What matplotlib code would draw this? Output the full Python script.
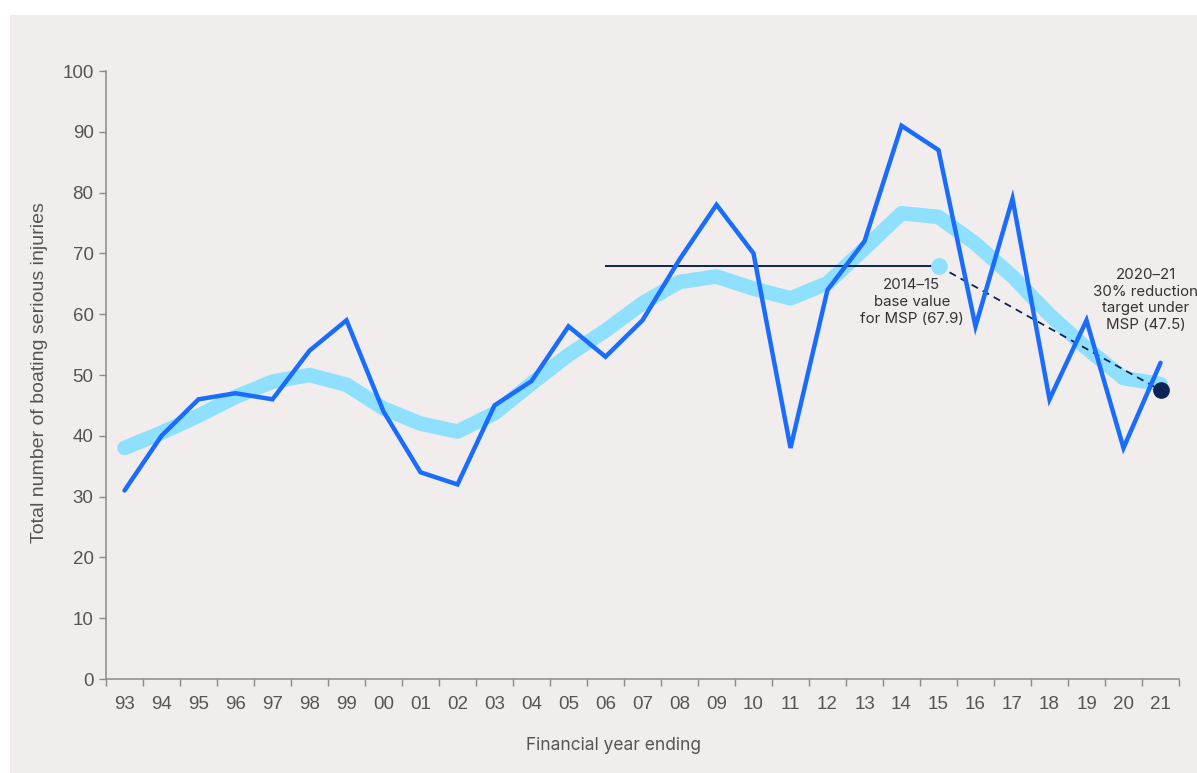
import numpy as np
import matplotlib
matplotlib.use("Agg")
import matplotlib.pyplot as plt
from matplotlib.patches import Rectangle


# ── Data ───────────────────────────────────────────────────
years = ["93", "94", "95", "96", "97", "98", "99", "00", "01", "02",
         "03", "04", "05", "06", "07", "08", "09", "10", "11", "12",
         "13", "14", "15", "16", "17", "18", "19", "20", "21"]
injuries = [31, 40, 46, 47, 46, 54, 59, 44, 34, 32,
            45, 49, 58, 53, 59, 69, 78, 70, 38, 64,
            72, 91, 87, 58, 79, 46, 59, 38, 52]
trend = [38.0, 40.5, 43.3, 46.4, 48.9, 50.0, 48.4, 44.5, 42.0, 40.7,
         43.7, 48.6, 53.3, 57.3, 61.8, 65.3, 66.2, 64.2, 62.6, 65.1,
         70.8, 76.6, 76.0, 71.6, 66.2, 59.9, 54.4, 49.5, 48.5]
base_start, base_year, target_year = "06", "15", "21"
base_value = 67.9
target_value = 47.5
y_ticks = [0, 10, 20, 30, 40, 50, 60, 70, 80, 90, 100]

# ── Style ──────────────────────────────────────────────────
BG       = "#f1edec"
BLUE     = "#1a6cff"
LIGHT    = "#8fe0ff"
NAVY     = "#0b2454"
AXIS     = "#8a8a8a"
TEXT     = "#555555"
SANS     = ["Liberation Sans", "DejaVu Sans"]
plt.rcParams["font.family"] = ["Inter", "DejaVu Sans"]

fig = plt.figure(figsize=(11.97, 7.73), dpi=100)
fig.patch.set_facecolor("white")
fig.patches.append(Rectangle((10 / 1197, 0), 1, 1 - 15 / 773,
                             transform=fig.transFigure, facecolor=BG,
                             edgecolor="none", zorder=-10))

ax = fig.add_axes([106 / 1197, 1 - 679 / 773,
                   (1179 - 106) / 1197, (679 - 71) / 773])
ax.set_facecolor("none")

x = np.arange(len(years))
ib = years.index(base_start)
i15 = years.index(base_year)
i21 = years.index(target_year)

# trend band, base line, target path
ax.plot(x, trend, color=LIGHT, lw=10.5, solid_capstyle="round",
        solid_joinstyle="round", zorder=1)
ax.plot([ib, i15], [base_value, base_value], color=NAVY, lw=1.4, zorder=2)
ax.plot([i15, i21], [base_value, target_value], color=NAVY, lw=1.3,
        ls=(0, (4, 3)), zorder=2)

# yearly injuries
ax.plot(x, injuries, color=BLUE, lw=3.2, solid_joinstyle="miter",
        solid_capstyle="round", zorder=3)

ax.plot(i15, base_value, "o", ms=11, color=LIGHT, zorder=4)
ax.plot(i21, target_value, "o", ms=11, color=NAVY, zorder=5)

ax.text(21.28, 65.9, "2014\u201315\nbase value\nfor MSP (67.9)",
        ha="center", va="top", fontsize=10.8, color="#333333",
        linespacing=1.25, zorder=6)
ax.text(27.6, 67.6, "2020\u201321\n30% reduction\ntarget under\nMSP (47.5)",
        ha="center", va="top", fontsize=10.8, color="#333333",
        linespacing=1.25, zorder=6)

# ── Axes ───────────────────────────────────────────────────
ax.set_xlim(-0.5, len(years) - 0.5)
ax.set_ylim(0, 100)
for s in ["top", "right"]:
    ax.spines[s].set_visible(False)
for s in ["left", "bottom"]:
    ax.spines[s].set_color(AXIS)
    ax.spines[s].set_linewidth(1.1)

ax.set_yticks(y_ticks)
ax.tick_params(axis="y", length=5, width=1, color=AXIS, labelcolor=TEXT,
               labelsize=13.5, pad=4)
ax.set_xticks(x)
ax.set_xticklabels(years)
ax.set_xticks(np.arange(-0.5, len(years)), minor=True)
ax.tick_params(axis="x", which="major", length=0, labelcolor=TEXT,
               labelsize=13.5, pad=12)
ax.tick_params(axis="x", which="minor", length=5, width=1, color=AXIS)
for lbl in ax.get_xticklabels() + ax.get_yticklabels():
    lbl.set_family(SANS)

ax.set_xlabel("Financial year ending", fontsize=12.5, color=TEXT)
ax.xaxis.set_label_coords((614 - 106) / 1073, -(745 - 679) / 608)
ax.set_ylabel("Total number of boating serious injuries", fontsize=14,
              color=TEXT, family=SANS)
ax.yaxis.set_label_coords(-(106 - 40) / 1073, (679 - 373) / 608)
ax.xaxis.label.set_va("center")
ax.yaxis.label.set_va("center")

fig.savefig("out.png", dpi=100)
